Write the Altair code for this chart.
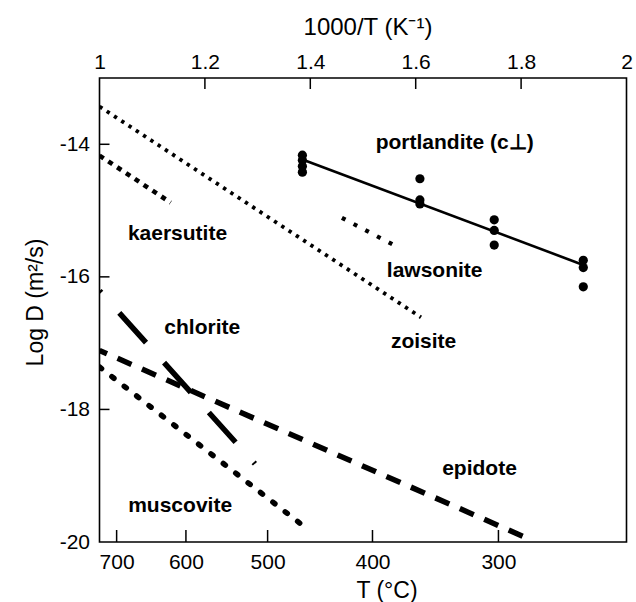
import altair as alt
import pandas as pd

# ---- data ----
zoisite_x = [1.0, 1.61]
zoisite_y = [-13.43, -16.61]
kaersutite_x = [1.0, 1.135]
kaersutite_y = [-14.17, -14.88]
lawsonite_x = [1.46, 1.556]
lawsonite_y = [-15.11, -15.51]
chlorite_x = [1.0, 1.295]
chlorite_y = [-16.21, -18.82]
epidote_x = [1.0, 1.808]
epidote_y = [-17.11, -19.93]
muscovite_x = [1.0, 1.384]
muscovite_y = [-17.36, -19.74]
portl_fit_x = [1.385, 1.918]
portl_fit_y = [-14.23, -15.82]
portl_pts_x = [1.385, 1.385, 1.385, 1.385, 1.608, 1.608, 1.608,
               1.749, 1.749, 1.749, 1.918, 1.918, 1.918]
portl_pts_y = [-14.165, -14.24, -14.33, -14.42, -14.52, -14.84, -14.90,
               -15.14, -15.30, -15.52, -15.75, -15.86, -16.15]

label_text = ["portlandite (c\u22a5)", "kaersutite", "lawsonite", "zoisite",
              "chlorite", "epidote", "muscovite"]
label_x = [1.674, 1.148, 1.636, 1.615, 1.195, 1.721, 1.153]
label_y = [-14.065, -15.45, -16.0, -17.08, -16.855, -18.99, -19.545]

top_ticks = [1, 1.2, 1.4, 1.6, 1.8, 2]
top_inner_ticks = [1.2, 1.4, 1.6, 1.8]
y_ticks = [-14, -16, -18, -20]
y_inner_ticks = [-14, -16, -18]
t_tick_pos = [1.0325, 1.164, 1.319, 1.518, 1.757]
t_tick_lab = ["700", "600", "500", "400", "300"]

W, H = 527, 464
FONT = "Liberation Sans"

xscale = alt.Scale(domain=[1, 2], nice=False, zero=False)
yscale = alt.Scale(domain=[-20, -13], nice=False, zero=False)


def line_layer(xs, ys, width, dash=None, cap="butt", offset=0):
    df = pd.DataFrame({"x": xs, "y": ys})
    kw = dict(color="black", strokeWidth=width, strokeCap=cap, clip=True)
    if dash is not None:
        kw["strokeDash"] = dash
        kw["strokeDashOffset"] = offset
    return alt.Chart(df).mark_line(**kw).encode(
        x=alt.X("x:Q", scale=xscale, axis=None),
        y=alt.Y("y:Q", scale=yscale, axis=None),
    )


zoisite = line_layer(zoisite_x, zoisite_y, 3.8, [3.4, 5.3])
kaersutite = line_layer(kaersutite_x, kaersutite_y, 4.6, [5, 5.6])
lawsonite = line_layer(lawsonite_x, lawsonite_y, 4.2, [4, 9.2])
chlorite = line_layer(chlorite_x, chlorite_y, 5.5, [40, 27], offset=37.4)
epidote = line_layer(epidote_x, epidote_y, 5.5, [15.2, 11.5], offset=7)
muscovite = line_layer(muscovite_x, muscovite_y, 5.5, [2.6, 13.1], cap="round")
portl_line = line_layer(portl_fit_x, portl_fit_y, 2.6)

portl_pts = alt.Chart(pd.DataFrame({"x": portl_pts_x, "y": portl_pts_y})).mark_point(
    filled=True, color="black", opacity=1, size=85, shape="circle"
).encode(
    x=alt.X("x:Q", scale=xscale, axis=None),
    y=alt.Y("y:Q", scale=yscale, axis=None),
)

labels = alt.Chart(pd.DataFrame({"x": label_x, "y": label_y, "t": label_text})).mark_text(
    font=FONT, fontSize=21, fontWeight="bold", color="black", align="center",
    baseline="alphabetic"
).encode(
    x=alt.X("x:Q", scale=xscale, axis=None),
    y=alt.Y("y:Q", scale=yscale, axis=None),
    text="t:N",
)

# top axis (1000/T) with inward ticks
top_axis = alt.Chart(pd.DataFrame({"x": top_inner_ticks})).mark_rule(
    color="black", strokeWidth=1.5
).encode(
    x=alt.X("x:Q", scale=xscale, axis=alt.Axis(
        orient="top", values=top_ticks, labelExpr="toString(datum.value)",
        title="1000/T (K\u207b\u00b9)", titleY=-44, titleX=268,
        titleBaseline="alphabetic", titleFontSize=24,
        labelPadding=6, labelFlush=False, labelOverlap=False,
    )),
    y=alt.value(0), y2=alt.value(11),
)

# bottom axis (T in degC) with inward ticks
t_label_expr = " : ".join(
    f"datum.value == {v} ? '{l}'" for v, l in zip(t_tick_pos, t_tick_lab)
) + " : ''"
bottom_axis = alt.Chart(pd.DataFrame({"x": t_tick_pos})).mark_rule(
    color="black", strokeWidth=1.5
).encode(
    x=alt.X("x:Q", scale=xscale, axis=alt.Axis(
        orient="bottom", values=t_tick_pos, labelExpr=t_label_expr,
        title="T (\u00b0C)", titleY=55, titleX=287, titleBaseline="alphabetic",
        labelPadding=9, labelFlush=False, labelOverlap=False,
    )),
    y=alt.value(H), y2=alt.value(H - 12),
)

# left axis with inward ticks
left_axis = alt.Chart(pd.DataFrame({"y": y_inner_ticks})).mark_rule(
    color="black", strokeWidth=1.5
).encode(
    y=alt.Y("y:Q", scale=yscale, axis=alt.Axis(
        orient="left", values=y_ticks, labelExpr="toString(datum.value)",
        title="Log D (m\u00b2/s)", titleX=-57, titleY=224, titleBaseline="alphabetic",
        labelPadding=10, labelFlush=False, labelOverlap=False,
    )),
    x=alt.value(0), x2=alt.value(10),
)

chart = alt.layer(
    top_axis, bottom_axis, left_axis,
    zoisite, kaersutite, lawsonite, chlorite, epidote, muscovite,
    portl_line, portl_pts, labels,
).resolve_axis(x="independent", y="independent").properties(
    width=W, height=H,
    autosize=alt.AutoSizeParams(type="none"),
    padding={"left": 99.5, "top": 78, "right": 9.5, "bottom": 60},
    background="white",
).configure_view(
    stroke="black", strokeWidth=1.6
).configure_axis(
    labelFont=FONT, labelFontSize=21, labelColor="black",
    titleFont=FONT, titleFontSize=23, titleFontWeight="normal", titleColor="black",
    domain=False, ticks=False, tickSize=0, grid=False,
)

chart.save("out.html", embed_options={"renderer": "svg", "actions": False})
